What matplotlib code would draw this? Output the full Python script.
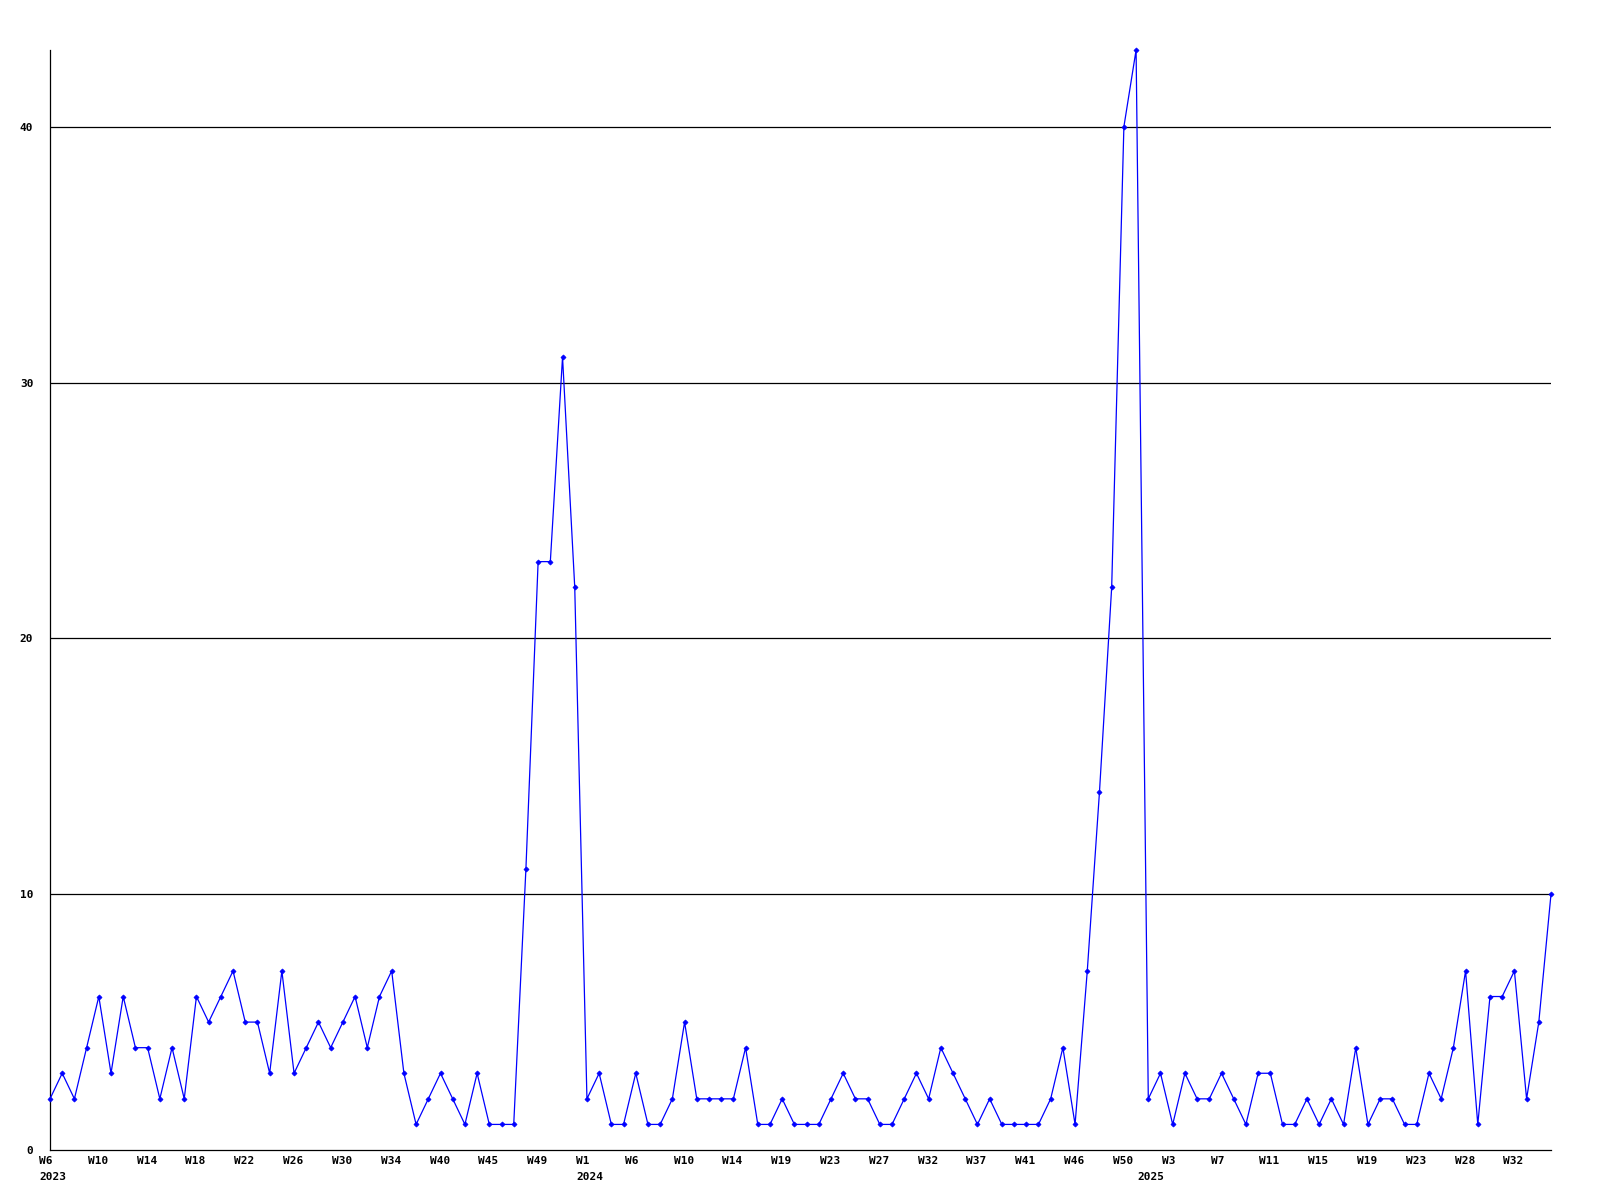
import matplotlib
matplotlib.use("Agg")
import matplotlib.pyplot as plt
import matplotlib.transforms as mtransforms
import numpy as np

# ---- data -------------------------------------------------------------
years = [2023, 2024, 2025]

weeks_2023 = list(range(6, 35)) + [35, 37, 38, 40, 41, 42, 44, 45, 46, 47, 48, 49, 50, 51, 52]
counts_2023 = [2, 3, 2, 4, 6, 3, 6, 4, 4, 2, 4, 2, 6, 5, 6, 7, 5, 5, 3, 7, 3, 4, 5, 4, 5, 6, 4, 6, 7,
               3, 1, 2, 3, 2, 1, 3, 1, 1, 1, 11, 23, 23, 31, 22]

weeks_2024 = [1, 2, 3] + list(range(5, 17)) + list(range(18, 30)) + list(range(31, 36)) \
    + list(range(37, 44)) + list(range(45, 52))
counts_2024 = [2, 3, 1, 1, 3, 1, 1, 2, 5, 2, 2, 2, 2, 4, 1, 1, 2, 1, 1, 1, 2, 3, 2, 2, 1, 1, 2, 3,
               2, 4, 3, 2, 1, 2, 1, 1, 1, 1, 2, 4, 1, 7, 14, 22, 40, 43]

weeks_2025 = list(range(1, 26)) + list(range(27, 36))
counts_2025 = [2, 3, 1, 3, 2, 2, 3, 2, 1, 3, 3, 1, 1, 2, 1, 2, 1, 4, 1, 2, 2, 1, 1, 3, 2, 4, 7, 1,
               6, 6, 7, 2, 5, 10]

y_ticks = [0, 10, 20, 30, 40]
y_max = 43
label_every = 4

# ---- assemble ---------------------------------------------------------
week_lists = [weeks_2023, weeks_2024, weeks_2025]
count_lists = [counts_2023, counts_2024, counts_2025]
labels, values, year_start = [], [], []
for yr, wk, ct in zip(years, week_lists, count_lists):
    year_start.append(len(labels))
    labels += [f"W{w}" for w in wk]
    values += ct
x = np.arange(len(values))

# ---- figure -----------------------------------------------------------
fig = plt.figure(figsize=(16, 12), dpi=100)
ax = fig.add_axes([50 / 1600, 50 / 1200, 1501 / 1600, 1100 / 1200])

font = dict(family="DejaVu Sans Mono", weight="bold", size=8)

for v in y_ticks[1:]:
    ax.axhline(v, color="black", lw=0.9, zorder=1)

ax.plot(x, values, color="#0000ff", lw=0.9, marker="D", markersize=2.6,
        markeredgewidth=0.5, zorder=3, clip_on=False)

ax.set_xlim(0, len(values) - 1)
ax.set_ylim(0, y_max)

ax.spines["top"].set_visible(False)
ax.spines["right"].set_visible(False)
ax.spines["left"].set_linewidth(0.9)
ax.spines["bottom"].set_linewidth(0.9)

ax.set_yticks(y_ticks)
ax.set_yticklabels([str(v) for v in y_ticks], fontdict=font)
ax.tick_params(axis="y", length=0, pad=12)

tick_idx = x[::label_every]
ax.set_xticks(tick_idx)
ax.set_xticklabels([labels[i] for i in tick_idx], fontdict=font, ha="left")
ax.tick_params(axis="x", length=0, pad=4)
shift = mtransforms.ScaledTranslation(-11 / 100, 0, fig.dpi_scale_trans)
for lab in ax.get_xticklabels():
    lab.set_transform(lab.get_transform() + shift)

for yr, start in zip(years, year_start):
    ax.annotate(str(yr), xy=(start, 0), xycoords=("data", "axes fraction"),
                xytext=(-7.6, -19.4), textcoords="offset points",
                ha="left", va="center", **font)

fig.savefig("out.png", dpi=100, facecolor="white")
